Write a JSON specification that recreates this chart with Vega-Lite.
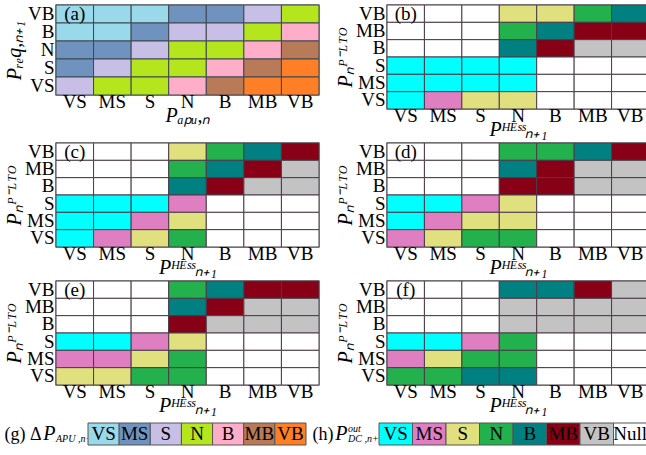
{
"$schema": "https://vega.github.io/schema/vega-lite/v6.json",
"background": "white",
"padding": {"left": 3, "top": 3, "right": 0, "bottom": 0},
"columns": 1,
"align": "none",
"spacing": 1,
"config": {
 "font": "Liberation Serif",
 "view": {"stroke": "#808080", "strokeWidth": 1.5},
 "axis": {"domain": false, "ticks": false, "grid": false, "labelFont": "Liberation Serif", "labelFontSize": 19, "labelColor": "black", "labelAngle": 0, "labelPadding": -3, "titleFont": "Liberation Serif", "titleFontStyle": "italic", "titleFontWeight": "normal", "titleFontSize": 20, "titleColor": "black"},
 "axisY": {"minExtent": 30, "maxExtent": 30, "titlePadding": 2, "labelPadding": 2},
 "axisX": {"titlePadding": -6}
},
"datasets": {
 "a": [
  {"x":"VS","y":"VB","c":"VS"},{"x":"MS","y":"VB","c":"VS"},{"x":"S","y":"VB","c":"VS"},{"x":"N","y":"VB","c":"MS"},{"x":"B","y":"VB","c":"MS"},{"x":"MB","y":"VB","c":"S"},{"x":"VB","y":"VB","c":"N"},
  {"x":"VS","y":"B","c":"VS"},{"x":"MS","y":"B","c":"VS"},{"x":"S","y":"B","c":"MS"},{"x":"N","y":"B","c":"S"},{"x":"B","y":"B","c":"S"},{"x":"MB","y":"B","c":"N"},{"x":"VB","y":"B","c":"B"},
  {"x":"VS","y":"N","c":"MS"},{"x":"MS","y":"N","c":"MS"},{"x":"S","y":"N","c":"S"},{"x":"N","y":"N","c":"N"},{"x":"B","y":"N","c":"N"},{"x":"MB","y":"N","c":"B"},{"x":"VB","y":"N","c":"MB"},
  {"x":"VS","y":"S","c":"MS"},{"x":"MS","y":"S","c":"S"},{"x":"S","y":"S","c":"N"},{"x":"N","y":"S","c":"N"},{"x":"B","y":"S","c":"B"},{"x":"MB","y":"S","c":"MB"},{"x":"VB","y":"S","c":"VB"},
  {"x":"VS","y":"VS","c":"S"},{"x":"MS","y":"VS","c":"N"},{"x":"S","y":"VS","c":"N"},{"x":"N","y":"VS","c":"B"},{"x":"B","y":"VS","c":"MB"},{"x":"MB","y":"VS","c":"VB"},{"x":"VB","y":"VS","c":"VB"}
 ],
 "b": [
  {"x":"VS","y":"VB","c":"Null"},{"x":"MS","y":"VB","c":"Null"},{"x":"S","y":"VB","c":"Null"},{"x":"N","y":"VB","c":"S"},{"x":"B","y":"VB","c":"S"},{"x":"MB","y":"VB","c":"N"},{"x":"VB","y":"VB","c":"B"},
  {"x":"VS","y":"MB","c":"Null"},{"x":"MS","y":"MB","c":"Null"},{"x":"S","y":"MB","c":"Null"},{"x":"N","y":"MB","c":"N"},{"x":"B","y":"MB","c":"B"},{"x":"MB","y":"MB","c":"MB"},{"x":"VB","y":"MB","c":"MB"},
  {"x":"VS","y":"B","c":"Null"},{"x":"MS","y":"B","c":"Null"},{"x":"S","y":"B","c":"Null"},{"x":"N","y":"B","c":"B"},{"x":"B","y":"B","c":"MB"},{"x":"MB","y":"B","c":"VB"},{"x":"VB","y":"B","c":"VB"},
  {"x":"VS","y":"S","c":"VS"},{"x":"MS","y":"S","c":"VS"},{"x":"S","y":"S","c":"VS"},{"x":"N","y":"S","c":"VS"},{"x":"B","y":"S","c":"Null"},{"x":"MB","y":"S","c":"Null"},{"x":"VB","y":"S","c":"Null"},
  {"x":"VS","y":"MS","c":"VS"},{"x":"MS","y":"MS","c":"VS"},{"x":"S","y":"MS","c":"VS"},{"x":"N","y":"MS","c":"VS"},{"x":"B","y":"MS","c":"Null"},{"x":"MB","y":"MS","c":"Null"},{"x":"VB","y":"MS","c":"Null"},
  {"x":"VS","y":"VS","c":"VS"},{"x":"MS","y":"VS","c":"MS"},{"x":"S","y":"VS","c":"S"},{"x":"N","y":"VS","c":"S"},{"x":"B","y":"VS","c":"Null"},{"x":"MB","y":"VS","c":"Null"},{"x":"VB","y":"VS","c":"Null"}
 ],
 "c": [
  {"x":"VS","y":"VB","c":"Null"},{"x":"MS","y":"VB","c":"Null"},{"x":"S","y":"VB","c":"Null"},{"x":"N","y":"VB","c":"S"},{"x":"B","y":"VB","c":"N"},{"x":"MB","y":"VB","c":"B"},{"x":"VB","y":"VB","c":"MB"},
  {"x":"VS","y":"MB","c":"Null"},{"x":"MS","y":"MB","c":"Null"},{"x":"S","y":"MB","c":"Null"},{"x":"N","y":"MB","c":"N"},{"x":"B","y":"MB","c":"B"},{"x":"MB","y":"MB","c":"MB"},{"x":"VB","y":"MB","c":"VB"},
  {"x":"VS","y":"B","c":"Null"},{"x":"MS","y":"B","c":"Null"},{"x":"S","y":"B","c":"Null"},{"x":"N","y":"B","c":"B"},{"x":"B","y":"B","c":"MB"},{"x":"MB","y":"B","c":"VB"},{"x":"VB","y":"B","c":"VB"},
  {"x":"VS","y":"S","c":"VS"},{"x":"MS","y":"S","c":"VS"},{"x":"S","y":"S","c":"VS"},{"x":"N","y":"S","c":"MS"},{"x":"B","y":"S","c":"Null"},{"x":"MB","y":"S","c":"Null"},{"x":"VB","y":"S","c":"Null"},
  {"x":"VS","y":"MS","c":"VS"},{"x":"MS","y":"MS","c":"VS"},{"x":"S","y":"MS","c":"MS"},{"x":"N","y":"MS","c":"S"},{"x":"B","y":"MS","c":"Null"},{"x":"MB","y":"MS","c":"Null"},{"x":"VB","y":"MS","c":"Null"},
  {"x":"VS","y":"VS","c":"VS"},{"x":"MS","y":"VS","c":"MS"},{"x":"S","y":"VS","c":"S"},{"x":"N","y":"VS","c":"N"},{"x":"B","y":"VS","c":"Null"},{"x":"MB","y":"VS","c":"Null"},{"x":"VB","y":"VS","c":"Null"}
 ],
 "d": [
  {"x":"VS","y":"VB","c":"Null"},{"x":"MS","y":"VB","c":"Null"},{"x":"S","y":"VB","c":"Null"},{"x":"N","y":"VB","c":"N"},{"x":"B","y":"VB","c":"N"},{"x":"MB","y":"VB","c":"B"},{"x":"VB","y":"VB","c":"MB"},
  {"x":"VS","y":"MB","c":"Null"},{"x":"MS","y":"MB","c":"Null"},{"x":"S","y":"MB","c":"Null"},{"x":"N","y":"MB","c":"B"},{"x":"B","y":"MB","c":"MB"},{"x":"MB","y":"MB","c":"VB"},{"x":"VB","y":"MB","c":"VB"},
  {"x":"VS","y":"B","c":"Null"},{"x":"MS","y":"B","c":"Null"},{"x":"S","y":"B","c":"Null"},{"x":"N","y":"B","c":"MB"},{"x":"B","y":"B","c":"MB"},{"x":"MB","y":"B","c":"VB"},{"x":"VB","y":"B","c":"VB"},
  {"x":"VS","y":"S","c":"VS"},{"x":"MS","y":"S","c":"VS"},{"x":"S","y":"S","c":"MS"},{"x":"N","y":"S","c":"S"},{"x":"B","y":"S","c":"Null"},{"x":"MB","y":"S","c":"Null"},{"x":"VB","y":"S","c":"Null"},
  {"x":"VS","y":"MS","c":"VS"},{"x":"MS","y":"MS","c":"MS"},{"x":"S","y":"MS","c":"S"},{"x":"N","y":"MS","c":"S"},{"x":"B","y":"MS","c":"Null"},{"x":"MB","y":"MS","c":"Null"},{"x":"VB","y":"MS","c":"Null"},
  {"x":"VS","y":"VS","c":"MS"},{"x":"MS","y":"VS","c":"S"},{"x":"S","y":"VS","c":"N"},{"x":"N","y":"VS","c":"N"},{"x":"B","y":"VS","c":"Null"},{"x":"MB","y":"VS","c":"Null"},{"x":"VB","y":"VS","c":"Null"}
 ],
 "e": [
  {"x":"VS","y":"VB","c":"Null"},{"x":"MS","y":"VB","c":"Null"},{"x":"S","y":"VB","c":"Null"},{"x":"N","y":"VB","c":"N"},{"x":"B","y":"VB","c":"B"},{"x":"MB","y":"VB","c":"MB"},{"x":"VB","y":"VB","c":"MB"},
  {"x":"VS","y":"MB","c":"Null"},{"x":"MS","y":"MB","c":"Null"},{"x":"S","y":"MB","c":"Null"},{"x":"N","y":"MB","c":"B"},{"x":"B","y":"MB","c":"MB"},{"x":"MB","y":"MB","c":"VB"},{"x":"VB","y":"MB","c":"VB"},
  {"x":"VS","y":"B","c":"Null"},{"x":"MS","y":"B","c":"Null"},{"x":"S","y":"B","c":"Null"},{"x":"N","y":"B","c":"MB"},{"x":"B","y":"B","c":"VB"},{"x":"MB","y":"B","c":"VB"},{"x":"VB","y":"B","c":"VB"},
  {"x":"VS","y":"S","c":"VS"},{"x":"MS","y":"S","c":"VS"},{"x":"S","y":"S","c":"MS"},{"x":"N","y":"S","c":"S"},{"x":"B","y":"S","c":"Null"},{"x":"MB","y":"S","c":"Null"},{"x":"VB","y":"S","c":"Null"},
  {"x":"VS","y":"MS","c":"MS"},{"x":"MS","y":"MS","c":"MS"},{"x":"S","y":"MS","c":"S"},{"x":"N","y":"MS","c":"N"},{"x":"B","y":"MS","c":"Null"},{"x":"MB","y":"MS","c":"Null"},{"x":"VB","y":"MS","c":"Null"},
  {"x":"VS","y":"VS","c":"S"},{"x":"MS","y":"VS","c":"S"},{"x":"S","y":"VS","c":"N"},{"x":"N","y":"VS","c":"N"},{"x":"B","y":"VS","c":"Null"},{"x":"MB","y":"VS","c":"Null"},{"x":"VB","y":"VS","c":"Null"}
 ],
 "f": [
  {"x":"VS","y":"VB","c":"Null"},{"x":"MS","y":"VB","c":"Null"},{"x":"S","y":"VB","c":"Null"},{"x":"N","y":"VB","c":"B"},{"x":"B","y":"VB","c":"B"},{"x":"MB","y":"VB","c":"MB"},{"x":"VB","y":"VB","c":"VB"},
  {"x":"VS","y":"MB","c":"Null"},{"x":"MS","y":"MB","c":"Null"},{"x":"S","y":"MB","c":"Null"},{"x":"N","y":"MB","c":"VB"},{"x":"B","y":"MB","c":"VB"},{"x":"MB","y":"MB","c":"VB"},{"x":"VB","y":"MB","c":"VB"},
  {"x":"VS","y":"B","c":"Null"},{"x":"MS","y":"B","c":"Null"},{"x":"S","y":"B","c":"Null"},{"x":"N","y":"B","c":"VB"},{"x":"B","y":"B","c":"VB"},{"x":"MB","y":"B","c":"VB"},{"x":"VB","y":"B","c":"VB"},
  {"x":"VS","y":"S","c":"VS"},{"x":"MS","y":"S","c":"VS"},{"x":"S","y":"S","c":"MS"},{"x":"N","y":"S","c":"N"},{"x":"B","y":"S","c":"Null"},{"x":"MB","y":"S","c":"Null"},{"x":"VB","y":"S","c":"Null"},
  {"x":"VS","y":"MS","c":"MS"},{"x":"MS","y":"MS","c":"S"},{"x":"S","y":"MS","c":"N"},{"x":"N","y":"MS","c":"N"},{"x":"B","y":"MS","c":"Null"},{"x":"MB","y":"MS","c":"Null"},{"x":"VB","y":"MS","c":"Null"},
  {"x":"VS","y":"VS","c":"N"},{"x":"MS","y":"VS","c":"N"},{"x":"S","y":"VS","c":"B"},{"x":"N","y":"VS","c":"B"},{"x":"B","y":"VS","c":"Null"},{"x":"MB","y":"VS","c":"Null"},{"x":"VB","y":"VS","c":"Null"}
 ],
 "g": [{"c":"VS"},{"c":"MS"},{"c":"S"},{"c":"N"},{"c":"B"},{"c":"MB"},{"c":"VB"}],
 "h": [{"c":"VS"},{"c":"MS"},{"c":"S"},{"c":"N"},{"c":"B"},{"c":"MB"},{"c":"VB"},{"c":"Null"}]
},
"concat": [
 {"spacing": 13, "hconcat": [
  {"width": 263, "height": 90, "data": {"name": "a"},
   "encoding": {
    "x": {"field": "x", "type": "nominal", "scale": {"domain": ["VS","MS","S","N","B","MB","VB"]}, "axis": {"title": "Pₐₚᵤ,ₙ"}},
    "y": {"field": "y", "type": "nominal", "scale": {"domain": ["VB","B","N","S","VS"]}, "axis": {"title": "Pᵣₑq,ₙ₊₁"}}},
   "layer": [
    {"mark": {"type": "rect", "stroke": "#3d4650", "strokeWidth": 1},
     "encoding": {"color": {"field": "c", "type": "nominal", "scale": {"domain": ["VS","MS","S","N","B","MB","VB"], "range": ["#99D9EA","#7092BE","#C8BFE7","#B5E61D","#FFAEC9","#B97A57","#FF7F27"]}, "legend": null}}},
    {"mark": {"type": "text", "fontSize": 19, "color": "black"}, "transform": [{"filter": "datum.x == 'VS' && datum.y == 'VB'"}],
     "encoding": {"text": {"value": "(a)"}}}
   ]},
  {"width": 262, "height": 104, "data": {"name": "b"},
   "encoding": {
    "x": {"field": "x", "type": "nominal", "scale": {"domain": ["VS","MS","S","N","B","MB","VB"]}, "axis": {"title": "Pᴴᴱˢˢₙ₊₁"}},
    "y": {"field": "y", "type": "nominal", "scale": {"domain": ["VB","MB","B","S","MS","VS"]}, "axis": {"title": "Pₙᴾ⁻ᴸᵀᴼ"}}},
   "layer": [
    {"mark": {"type": "rect", "stroke": "#4a3c4a", "strokeWidth": 1},
     "encoding": {"fill": {"field": "c", "type": "nominal", "scale": {"domain": ["VS","MS","S","N","B","MB","VB","Null"], "range": ["#00FFFF","#E07EC2","#E0E07E","#22B14C","#008080","#880015","#C3C3C3","#FFFFFF"]}, "legend": null}}},
    {"mark": {"type": "text", "fontSize": 19, "color": "black"}, "transform": [{"filter": "datum.x == 'VS' && datum.y == 'VB'"}],
     "encoding": {"text": {"value": "(b)"}}}
   ]}
 ]},
 {"spacing": 13, "hconcat": [
  {"width": 263, "height": 104, "data": {"name": "c"},
   "encoding": {
    "x": {"field": "x", "type": "nominal", "scale": {"domain": ["VS","MS","S","N","B","MB","VB"]}, "axis": {"title": "Pᴴᴱˢˢₙ₊₁"}},
    "y": {"field": "y", "type": "nominal", "scale": {"domain": ["VB","MB","B","S","MS","VS"]}, "axis": {"title": "Pₙᴾ⁻ᴸᵀᴼ"}}},
   "layer": [
    {"mark": {"type": "rect", "stroke": "#4a3c4a", "strokeWidth": 1},
     "encoding": {"fill": {"field": "c", "type": "nominal", "scale": {"domain": ["VS","MS","S","N","B","MB","VB","Null"], "range": ["#00FFFF","#E07EC2","#E0E07E","#22B14C","#008080","#880015","#C3C3C3","#FFFFFF"]}, "legend": null}}},
    {"mark": {"type": "text", "fontSize": 19, "color": "black"}, "transform": [{"filter": "datum.x == 'VS' && datum.y == 'VB'"}],
     "encoding": {"text": {"value": "(c)"}}}
   ]},
  {"width": 262, "height": 104, "data": {"name": "d"},
   "encoding": {
    "x": {"field": "x", "type": "nominal", "scale": {"domain": ["VS","MS","S","N","B","MB","VB"]}, "axis": {"title": "Pᴴᴱˢˢₙ₊₁"}},
    "y": {"field": "y", "type": "nominal", "scale": {"domain": ["VB","MB","B","S","MS","VS"]}, "axis": {"title": "Pₙᴾ⁻ᴸᵀᴼ"}}},
   "layer": [
    {"mark": {"type": "rect", "stroke": "#4a3c4a", "strokeWidth": 1},
     "encoding": {"fill": {"field": "c", "type": "nominal", "scale": {"domain": ["VS","MS","S","N","B","MB","VB","Null"], "range": ["#00FFFF","#E07EC2","#E0E07E","#22B14C","#008080","#880015","#C3C3C3","#FFFFFF"]}, "legend": null}}},
    {"mark": {"type": "text", "fontSize": 19, "color": "black"}, "transform": [{"filter": "datum.x == 'VS' && datum.y == 'VB'"}],
     "encoding": {"text": {"value": "(d)"}}}
   ]}
 ]},
 {"spacing": 13, "hconcat": [
  {"width": 263, "height": 104, "data": {"name": "e"},
   "encoding": {
    "x": {"field": "x", "type": "nominal", "scale": {"domain": ["VS","MS","S","N","B","MB","VB"]}, "axis": {"title": "Pᴴᴱˢˢₙ₊₁"}},
    "y": {"field": "y", "type": "nominal", "scale": {"domain": ["VB","MB","B","S","MS","VS"]}, "axis": {"title": "Pₙᴾ⁻ᴸᵀᴼ"}}},
   "layer": [
    {"mark": {"type": "rect", "stroke": "#4a3c4a", "strokeWidth": 1},
     "encoding": {"fill": {"field": "c", "type": "nominal", "scale": {"domain": ["VS","MS","S","N","B","MB","VB","Null"], "range": ["#00FFFF","#E07EC2","#E0E07E","#22B14C","#008080","#880015","#C3C3C3","#FFFFFF"]}, "legend": null}}},
    {"mark": {"type": "text", "fontSize": 19, "color": "black"}, "transform": [{"filter": "datum.x == 'VS' && datum.y == 'VB'"}],
     "encoding": {"text": {"value": "(e)"}}}
   ]},
  {"width": 262, "height": 104, "data": {"name": "f"},
   "encoding": {
    "x": {"field": "x", "type": "nominal", "scale": {"domain": ["VS","MS","S","N","B","MB","VB"]}, "axis": {"title": "Pᴴᴱˢˢₙ₊₁"}},
    "y": {"field": "y", "type": "nominal", "scale": {"domain": ["VB","MB","B","S","MS","VS"]}, "axis": {"title": "Pₙᴾ⁻ᴸᵀᴼ"}}},
   "layer": [
    {"mark": {"type": "rect", "stroke": "#4a3c4a", "strokeWidth": 1},
     "encoding": {"fill": {"field": "c", "type": "nominal", "scale": {"domain": ["VS","MS","S","N","B","MB","VB","Null"], "range": ["#00FFFF","#E07EC2","#E0E07E","#22B14C","#008080","#880015","#C3C3C3","#FFFFFF"]}, "legend": null}}},
    {"mark": {"type": "text", "fontSize": 19, "color": "black"}, "transform": [{"filter": "datum.x == 'VS' && datum.y == 'VB'"}],
     "encoding": {"text": {"value": "(f)"}}}
   ]}
 ]},
 {"spacing": 1, "bounds": "flush", "hconcat": [
  {"width": 31, "height": 28, "view": {"stroke": null},
   "encoding": {"y": {"datum": "P", "type": "nominal", "scale": {"type": "band", "paddingInner": 0, "paddingOuter": 0.1364, "align": 1},
     "axis": {"title": "(g) Δ", "titleAngle": 0, "titleAlign": "right", "titleBaseline": "middle", "titleY": 17, "titleFontStyle": "normal", "titleFontSize": 18, "titlePadding": 1, "labelFontStyle": "italic", "labelFontSize": 20, "labelPadding": 1, "minExtent": 14, "maxExtent": 14}}},
   "layer": [
    {"data": {"values": [{"t": "APU ,n+1"}]},
     "mark": {"type": "text", "fontSize": 10, "fontStyle": "italic", "color": "black", "align": "left", "baseline": "top", "x": 0},
     "encoding": {"text": {"field": "t"}}}
   ]},
  {"width": 218, "height": 28, "data": {"name": "g"}, "view": {"stroke": null},
   "encoding": {
    "x": {"field": "c", "type": "nominal", "sort": null, "scale": {"domain": ["VS","MS","S","N","B","MB","VB"]}, "axis": null},
    "y": {"datum": "L", "type": "nominal", "scale": {"type": "band", "paddingInner": 0, "paddingOuter": 0.1364, "align": 1}, "axis": null}},
   "layer": [
    {"mark": {"type": "rect", "stroke": "#555555", "strokeWidth": 1},
     "encoding": {"color": {"field": "c", "type": "nominal", "scale": {"domain": ["VS","MS","S","N","B","MB","VB"], "range": ["#99D9EA","#7092BE","#C8BFE7","#B5E61D","#FFAEC9","#B97A57","#FF7F27"]}, "legend": null}}},
    {"mark": {"type": "text", "fontSize": 19, "color": "black"}, "encoding": {"text": {"field": "c"}}}
   ]},
  {"width": 40, "height": 28, "view": {"stroke": null}, "data": {"values": [{"t": ""}]},
   "mark": {"type": "text"}, "encoding": {"text": {"field": "t"}}},
  {"width": 30, "height": 28, "view": {"stroke": null},
   "encoding": {"y": {"datum": "P", "type": "nominal", "scale": {"type": "band", "paddingInner": 0, "paddingOuter": 0.1364, "align": 1},
     "axis": {"title": "(h)", "titleAngle": 0, "titleAlign": "right", "titleBaseline": "middle", "titleY": 17, "titleFontStyle": "normal", "titleFontSize": 18, "titlePadding": 1, "labelFontStyle": "italic", "labelFontSize": 20, "labelPadding": 1, "minExtent": 14, "maxExtent": 14}}},
   "layer": [
    {"data": {"values": [{"t": "out"}]},
     "mark": {"type": "text", "fontSize": 10, "fontStyle": "italic", "color": "black", "align": "left", "baseline": "bottom", "x": 0},
     "encoding": {"text": {"field": "t"}}},
    {"data": {"values": [{"t": "DC ,n+1"}]},
     "mark": {"type": "text", "fontSize": 10, "fontStyle": "italic", "color": "black", "align": "left", "baseline": "top", "x": 0},
     "encoding": {"text": {"field": "t"}}}
   ]},
  {"width": 268, "height": 28, "data": {"name": "h"}, "view": {"stroke": null},
   "encoding": {
    "x": {"field": "c", "type": "nominal", "sort": null, "scale": {"domain": ["VS","MS","S","N","B","MB","VB","Null"]}, "axis": null},
    "y": {"datum": "L", "type": "nominal", "scale": {"type": "band", "paddingInner": 0, "paddingOuter": 0.1364, "align": 1}, "axis": null}},
   "layer": [
    {"mark": {"type": "rect", "stroke": "#555555", "strokeWidth": 1},
     "encoding": {"fill": {"field": "c", "type": "nominal", "scale": {"domain": ["VS","MS","S","N","B","MB","VB","Null"], "range": ["#00FFFF","#E07EC2","#E0E07E","#22B14C","#008080","#880015","#C3C3C3","#FFFFFF"]}, "legend": null}}},
    {"mark": {"type": "text", "fontSize": 19, "color": "black"}, "encoding": {"text": {"field": "c"}}}
   ]}
 ]}
]
}
